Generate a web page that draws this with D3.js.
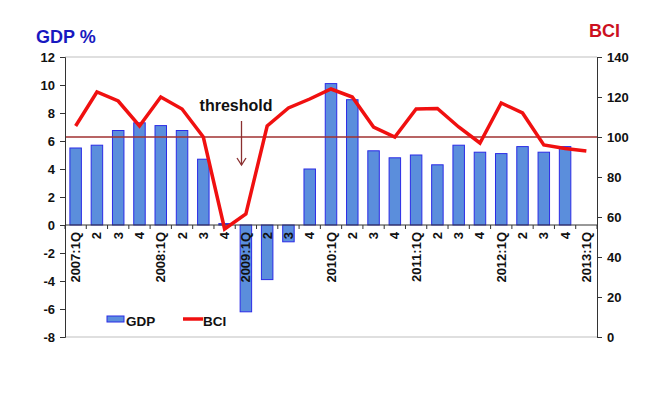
<!DOCTYPE html>
<html><head><meta charset="utf-8">
<script src="https://cdn.jsdelivr.net/npm/d3@7"></script>
<style>body{margin:0;background:#fff}svg{display:block}text{font-family:"Liberation Sans",Arial,sans-serif;font-weight:bold}</style>
</head><body>
<script>
const categories = ["2007:1Q","2","3","4","2008:1Q","2","3","4","2009:1Q","2","3","4","2010:1Q","2","3","4","2011:1Q","2","3","4","2012:1Q","2","3","4","2013:1Q"];
const gdp = [5.5,5.7,6.75,7.3,7.1,6.75,4.7,0.1,-6.2,-3.9,-1.2,4.0,10.1,8.95,5.3,4.8,5.0,4.3,5.7,5.2,5.1,5.6,5.2,5.6,null];
const bci = [105.5,122.5,118,105.5,120,114,100,54,61.5,105.5,114.5,119,124,120,105,100,114,114.3,105,97,117,112,96,94.3,93];
const gdpTicks = [-8,-6,-4,-2,0,2,4,6,8,10,12];
const bciTicks = [0,20,40,60,80,100,120,140];
const threshold = 100;

const W=656,H=400, L=65, R=597, T=57, B=337;
const svg=d3.select("body").append("svg").attr("width",W).attr("height",H);
const x=d3.scaleBand().domain(d3.range(categories.length)).range([L,R]);
const yL=d3.scaleLinear().domain([-8,12]).range([B,T]);
const yR=d3.scaleLinear().domain([0,140]).range([B,T]);

// frame lines
svg.append("line").attr("x1",L).attr("x2",R).attr("y1",T).attr("y2",T).attr("stroke","#d4d4d4").attr("stroke-width",1.5);
svg.append("line").attr("x1",L).attr("x2",R).attr("y1",B).attr("y2",B).attr("stroke","#d4d4d4").attr("stroke-width",1.5);

// bars
const bw=x.bandwidth()*0.54;
svg.append("g").selectAll("rect").data(gdp.map((v,i)=>({v,i})).filter(d=>d.v!==null)).join("rect")
  .attr("x",d=>x(d.i)+(x.bandwidth()-bw)/2).attr("width",bw)
  .attr("y",d=>yL(Math.max(0,d.v))).attr("height",d=>Math.abs(yL(d.v)-yL(0)))
  .attr("fill","#5b8edc").attr("stroke","#2b2be6").attr("stroke-width",1);

// threshold line
svg.append("line").attr("x1",L).attr("x2",R).attr("y1",yR(threshold)).attr("y2",yR(threshold)).attr("stroke","#a03030").attr("stroke-width",1.3);

// left axis
const gL=svg.append("g").attr("transform",`translate(${L},0)`).call(d3.axisLeft(yL).tickValues(gdpTicks).tickSize(5).tickFormat(d=>String(d)));
gL.selectAll("text").attr("font-size",13).attr("fill","#111").attr("dx",-2);
gL.selectAll("line,path").attr("stroke","#333");
// right axis
const gR=svg.append("g").attr("transform",`translate(${R},0)`).call(d3.axisRight(yR).tickValues(bciTicks).tickSize(5).tickFormat(d=>String(d)));
gR.selectAll("text").attr("font-size",13).attr("fill","#111").attr("dx",2);
gR.selectAll("line,path").attr("stroke","#333");

// x axis at 0
const y0=yL(0);
svg.append("line").attr("x1",L).attr("x2",R).attr("y1",y0).attr("y2",y0).attr("stroke","#333");
svg.append("g").selectAll("line").data(d3.range(categories.length+1)).join("line")
  .attr("x1",i=>L+i*x.step()).attr("x2",i=>L+i*x.step()).attr("y1",y0).attr("y2",y0+4).attr("stroke","#333");
svg.append("g").selectAll("text").data(categories).join("text")
  .attr("transform",(d,i)=>`translate(${x(i)+x.bandwidth()/2+4.5},${y0+7}) rotate(-90)`)
  .attr("text-anchor","end").attr("font-size",13).attr("fill","#111").text(d=>d);

// BCI line
const line=d3.line().x((d,i)=>x(i)+x.bandwidth()/2).y(d=>yR(d));
svg.append("path").datum(bci).attr("d",line).attr("fill","none").attr("stroke","#f01010").attr("stroke-width",3.5).attr("stroke-linejoin","miter");

// titles
svg.append("text").attr("x",36).attr("y",43).attr("font-size",18).attr("fill","#1818c0").text("GDP %");
svg.append("text").attr("x",589).attr("y",37).attr("font-size",18).attr("fill","#cc1020").text("BCI");

// threshold annotation
svg.append("text").attr("x",236).attr("y",111).attr("text-anchor","middle").attr("font-size",16).attr("fill","#111").text("threshold");
svg.append("line").attr("x1",241.5).attr("x2",241.5).attr("y1",121).attr("y2",165).attr("stroke","#8a3030").attr("stroke-width",1.3);
svg.append("path").attr("d","M237,158 L241.5,165 L246,158").attr("fill","none").attr("stroke","#8a3030").attr("stroke-width",1.3);

// legend
svg.append("rect").attr("x",107).attr("y",316).attr("width",17).attr("height",6).attr("fill","#5b8edc").attr("stroke","#2b2be6");
svg.append("text").attr("x",126).attr("y",326).attr("font-size",13.5).attr("fill","#111").text("GDP");
svg.append("line").attr("x1",183).attr("x2",203).attr("y1",319).attr("y2",319).attr("stroke","#f01010").attr("stroke-width",3.5);
svg.append("text").attr("x",203).attr("y",326).attr("font-size",13.5).attr("fill","#111").text("BCI");
</script>
</body></html>
